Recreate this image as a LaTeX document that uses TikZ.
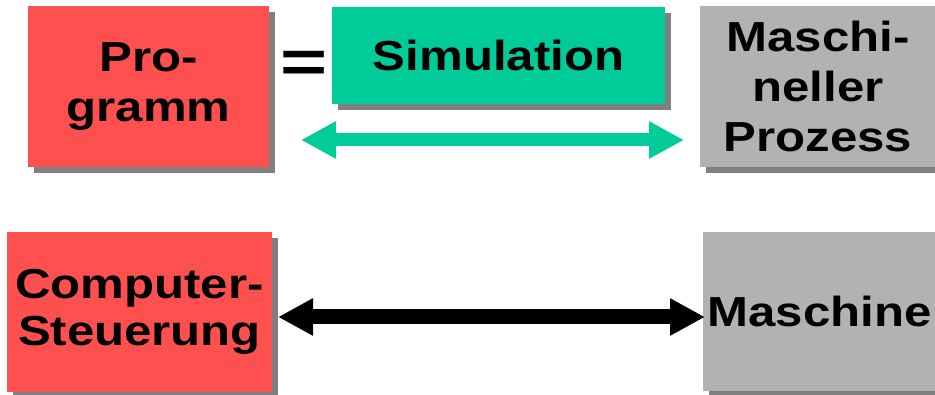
\documentclass[tikz,border=0pt]{standalone}
\usepackage{fontspec}
\newfontfamily\lab{Liberation Sans}[FakeStretch=1.17]
\usetikzlibrary{arrows.meta,shadows}
\definecolor{boxred}{RGB}{255,80,80}
\definecolor{boxgreen}{RGB}{0,204,153}
\definecolor{boxgray}{RGB}{178,178,178}
\definecolor{shadowgray}{RGB}{128,128,128}
\tikzset{
  box/.style={rectangle, inner sep=0pt, align=center, text=black,
    font=\lab\bfseries\fontsize{42}{50}\selectfont,
    drop shadow={shadow xshift=6pt, shadow yshift=-6pt, opacity=1, fill=shadowgray}},
  bigtip/.style={Triangle[length=35pt,width=35pt]},
  garrow/.style={draw=boxgreen, line width=13pt, {Triangle[length=35pt,width=35pt]}-{Triangle[length=35pt,width=35pt]}},
  barrow/.style={draw=black, line width=15pt, {Triangle[length=35pt,width=35pt]}-{Triangle[length=35pt,width=35pt]}}
}
\begin{document}
\begin{tikzpicture}[x=1pt,y=-1pt]
\useasboundingbox (0,0) rectangle (935,395);
\node[box, fill=boxred, minimum width=241pt, minimum height=161pt] (prog) at (148.5,86.5) {Pro-\\gramm};
\node[box, fill=boxgreen, minimum width=333pt, minimum height=97pt] (sim) at (498.5,55.5) {Simulation};
\node[box, fill=boxgray, minimum width=236pt, minimum height=161pt] (mp) at (818,86.5) {Maschi-\\neller\\Prozess};
\node[box, fill=boxred, minimum width=265pt, minimum height=160pt, font=\lab\bfseries\fontsize{42}{47}\selectfont] (cs) at (139.5,312) {Computer-\\Steuerung};
\node[box, fill=boxgray, minimum width=233pt, minimum height=159pt] (mach) at (819.5,311.5) {Maschine};
\node[inner sep=0pt, font=\lab\bfseries\fontsize{60}{60}\selectfont] (eq) at (304.5,67) {\scalebox{1.15}[1]{=}};
\coordinate (gL) at (301,140);
\coordinate (gR) at (684,140);
\coordinate (bL) at (278,317);
\coordinate (bR) at (705,317);
\draw[garrow] (gL) -- (gR);
\draw[barrow] (bL) -- (bR);
\end{tikzpicture}
\end{document}
